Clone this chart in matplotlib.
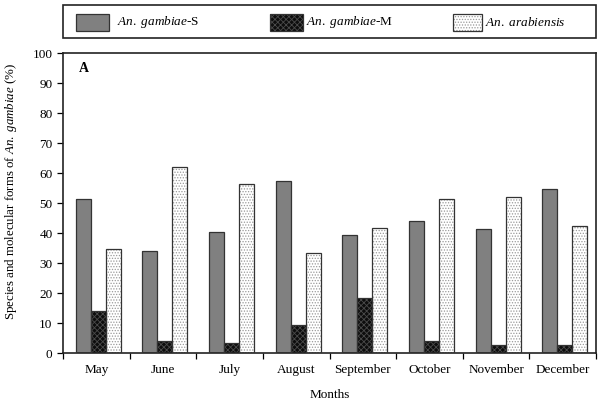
import matplotlib
matplotlib.use("Agg")
import matplotlib.pyplot as plt
import numpy as np
from matplotlib.patches import Rectangle

plt.rcParams['font.family'] = ['Liberation Serif', 'DejaVu Serif']
plt.rcParams['mathtext.fontset'] = 'custom'
plt.rcParams['mathtext.it'] = 'Liberation Serif:italic'
plt.rcParams['mathtext.rm'] = 'Liberation Serif'
plt.rcParams['hatch.linewidth'] = 0.6

months = ["May", "June", "July", "August", "September", "October", "November", "December"]
s_form = [51.3, 34.0, 40.2, 57.3, 39.4, 44.1, 41.5, 54.6]
m_form = [14.0, 4.1, 3.2, 9.4, 18.5, 4.1, 2.6, 2.6]
arabiensis = [34.6, 61.9, 56.5, 33.4, 41.8, 51.4, 52.0, 42.2]
labels = [r"$\mathit{An.\ gambiae}$-S", r"$\mathit{An.\ gambiae}$-M", r"$\mathit{An.\ arabiensis}$"]

W, H = 600, 403
fig = plt.figure(figsize=(6.0, 4.03), dpi=100)
ax = fig.add_axes([63/W, 1-353/H, 533/W, 300/H])

x = np.arange(len(months))
w = 0.225
offs = [-w, 0, w]
styles = [
    dict(face="#808080", hatch=None, hcol="#808080"),
    dict(face="#0d0d0d", hatch="xxxxxx", hcol="#4a4a4a"),
    dict(face="#ffffff", hatch="......", hcol="#9a9a9a"),
]
for vals, off, st in zip([s_form, m_form, arabiensis], offs, styles):
    ax.bar(x + off + 0.03, vals, w, color=st["face"], hatch=st["hatch"],
           edgecolor=st["hcol"], linewidth=0, zorder=2)
    ax.bar(x + off + 0.03, vals, w, fill=False, edgecolor="#333333", linewidth=0.9, zorder=3)

ax.set_xlim(-0.5, len(months) - 0.5)
ax.set_ylim(0, 100)
ax.set_yticks(np.arange(0, 101, 10))
ax.set_xticks(x)
ax.set_xticklabels(months, fontsize=9.5)
ax.tick_params(axis='x', which='major', length=0, pad=8)
ax.set_xticks(np.arange(-0.5, len(months) + 0.5, 1), minor=True)
ax.tick_params(axis='x', which='minor', length=4, direction='out', width=0.9)
ax.tick_params(axis='y', labelsize=9.5, length=4, width=0.9)
for sp in ax.spines.values():
    sp.set_linewidth(1.2)
    sp.set_color("#222222")

ax.set_xlabel("Months", fontsize=9.5, labelpad=9.5)
ax.set_ylabel(r"Species and molecular forms of $\mathit{An.\ gambiae}$ (%)", fontsize=9.3)
ax.yaxis.set_label_coords(-0.083, 0.54)
ax.text(0.03, 0.935, "A", transform=ax.transAxes, fontsize=10, fontweight='bold')

# legend box drawn manually in figure pixel coordinates
box = Rectangle((63/W, 1-38/H), 533/W, 33/H, transform=fig.transFigure,
                fill=False, edgecolor="#222222", linewidth=1.2)
fig.add_artist(box)
handle_x = [76, 270, 453]
handle_w = [33, 33, 29]
text_x = [117, 306, 485]
for hx, hw, tx, st, lab in zip(handle_x, handle_w, text_x, styles, labels):
    fig.add_artist(Rectangle((hx/W, 1-31/H), hw/W, 17/H, transform=fig.transFigure,
                             facecolor=st["face"], hatch=st["hatch"], edgecolor=st["hcol"],
                             linewidth=0))
    fig.add_artist(Rectangle((hx/W, 1-31/H), hw/W, 17/H, transform=fig.transFigure,
                             fill=False, edgecolor="#333333", linewidth=0.9))
    fig.text(tx/W, 1-22.5/H, lab, fontsize=9.5, va='center', ha='left')

fig.savefig("out.png", dpi=100)
